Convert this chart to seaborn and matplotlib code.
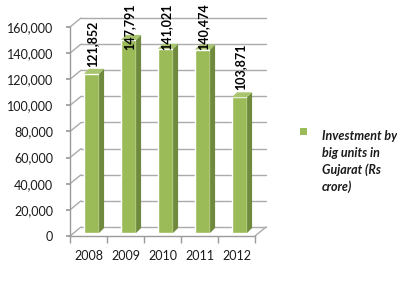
import matplotlib
matplotlib.use("Agg")
import matplotlib.pyplot as plt
import seaborn as sns
import pandas as pd
from matplotlib.transforms import ScaledTranslation, IdentityTransform
from matplotlib.patches import Polygon, Patch, Rectangle
from matplotlib.lines import Line2D
from matplotlib.textpath import TextPath
from matplotlib.font_manager import FontProperties

years = ["2008", "2009", "2010", "2011", "2012"]
values = [121852, 147791, 141021, 140474, 103871]
value_labels = ["121,852", "147,791", "141,021", "140,474", "103,871"]
series_name = "Investment by\nbig units in\nGujarat (Rs\ncrore)"
yticks = [0, 20000, 40000, 60000, 80000, 100000, 120000, 140000, 160000]
ytick_labels = ["0", "20,000", "40,000", "60,000", "80,000", "100,000",
                "120,000", "140,000", "160,000"]

FRONT = "#9BBB59"
SIDE = "#6F8A3C"
TOP = "#A9C46E"
GRID = "#ABABAB"
AXIS = "#9A9A9A"

sns.set_theme(style="white")
plt.rcParams['font.family'] = ['Lato', 'DejaVu Sans']

DPI = 100
W, H = 397, 295
fig = plt.figure(figsize=(W / DPI, H / DPI), dpi=DPI)
ax = fig.add_axes([70 / W, 59 / H, 185 / W, 209 / H])

df = pd.DataFrame({"Year": years, "Value": values})
sns.barplot(data=df, x="Year", y="Value", color=FRONT, saturation=1,
            width=0.41, ax=ax, zorder=3)

ax.set_xlim(-0.5, len(years) - 0.5)
ax.set_ylim(0, 160000)
ax.set_yticks(yticks)
ax.set_yticklabels(ytick_labels)
ax.set_xlabel("")
ax.set_ylabel("")

for s in ["top", "right"]:
    ax.spines[s].set_visible(False)
for s in ["left", "bottom"]:
    ax.spines[s].set_color(AXIS)
    ax.spines[s].set_linewidth(1)

ax.tick_params(axis="y", length=3, color=AXIS, pad=9, labelsize=9,
               labelcolor="#1a1a1a", left=True)
ax.set_xticks([i - 0.5 for i in range(len(years) + 1)], minor=True)
ax.tick_params(axis="x", which="minor", length=5, color=AXIS, bottom=True)
ax.tick_params(axis="x", which="major", length=0, pad=10, labelsize=9,
               labelcolor="#1a1a1a")

dpt = fig.dpi_scale_trans
wall = ScaledTranslation(11 / DPI, 9 / DPI, dpt)
barshift = ScaledTranslation(3 / DPI, 3 / DPI, dpt)

x0, x1 = ax.get_xlim()
for yv in yticks:
    ax.plot([x0, x1], [yv, yv], color=GRID, lw=1, transform=ax.transData + wall,
            clip_on=False, zorder=1)
    a = ax.transData.transform((x0, yv))
    b = (ax.transData + wall).transform((x0, yv))
    ax.add_line(Line2D([a[0], b[0]], [a[1], b[1]], color=GRID, lw=1,
                       transform=IdentityTransform(), clip_on=False, zorder=1))
a = ax.transData.transform((x1, 0))
b = (ax.transData + wall).transform((x1, 0))
ax.add_line(Line2D([a[0], b[0]], [a[1], b[1]], color=GRID, lw=1,
                   transform=IdentityTransform(), clip_on=False, zorder=1))

label_font = FontProperties(family="Lato", weight="bold", size=9)
depth = 5
bars = list(ax.patches)
for p in bars:
    p.set_transform(ax.transData + barshift)
    bx, by, bw, bh = p.get_x(), p.get_y(), p.get_width(), p.get_height()
    tr = ax.transData + barshift
    fl = tr.transform((bx, by + bh))
    fr = tr.transform((bx + bw, by + bh))
    br = tr.transform((bx + bw, by))
    side = [br, fr, fr + depth, br + depth]
    top = [fl, fr, fr + depth, fl + depth]
    ax.add_patch(Polygon(side, closed=True, facecolor=SIDE, edgecolor="none",
                         transform=IdentityTransform(), clip_on=False, zorder=3))
    ax.add_patch(Polygon(top, closed=True, facecolor=TOP, edgecolor="none",
                         transform=IdentityTransform(), clip_on=False, zorder=3))

# value labels via the library's bar_label, rotated, kept inside the figure
texts = ax.bar_label(ax.containers[0], labels=value_labels, rotation=90,
                     padding=7, fontproperties=label_font, color="black",
                     zorder=6)
for txt, p in zip(texts, bars):
    txt.set_rotation(90)
    txt.set_ha("center")
    txt.set_va("bottom")
    txt.set_zorder(6)
    top_px = (ax.transData + barshift).transform((p.get_x(), p.get_height()))[1]
    text_len = TextPath((0, 0), txt.get_text(), prop=label_font).get_extents().width * DPI / 72
    pad_px = 10
    if top_px + pad_px + text_len > H - 2:
        pad_px = H - 2 - text_len - top_px
    txt.xyann = (4 * 72 / DPI, pad_px * 72 / DPI)

leg = fig.legend(handles=[Patch(facecolor="none", edgecolor="none")],
                 labels=[series_name], loc="upper left",
                 bbox_to_anchor=(297 / W, 1 - 119 / H), frameon=False,
                 prop={"size": 9, "weight": "bold", "style": "italic"},
                 handlelength=0.7, handleheight=0.7, handletextpad=0.4,
                 labelcolor="#1a1a1a")
for t in leg.get_texts():
    t.set_linespacing(1.45)
fig.add_artist(Rectangle((300 / W, 1 - 135 / H), 7 / W, 7 / H,
                         facecolor=FRONT, edgecolor="none",
                         transform=fig.transFigure))

fig.savefig("out.png", dpi=DPI)
